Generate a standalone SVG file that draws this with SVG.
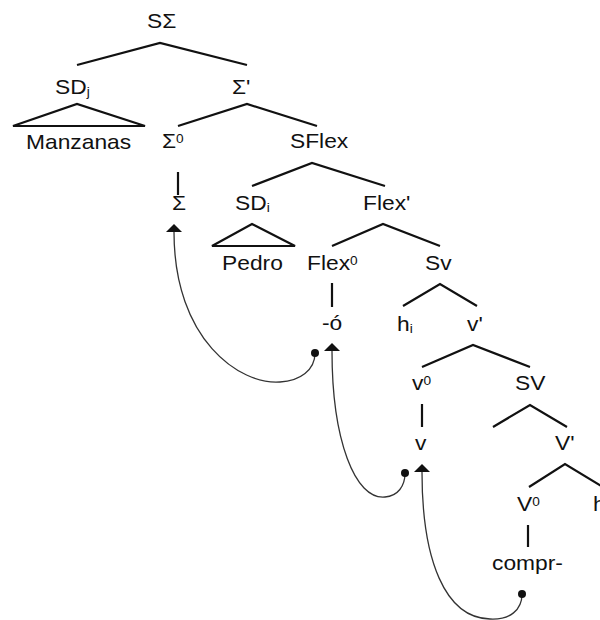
<svg xmlns="http://www.w3.org/2000/svg" width="600" height="620" viewBox="0 0 600 620">
<defs>
<style>
text{font-family:"Liberation Sans",Arial,sans-serif;font-size:20px;fill:#111}
.sub{font-size:12px}
.sup{font-size:12px}
.edge{stroke:#111;stroke-width:2.2;fill:none;stroke-linecap:butt}
.mv{stroke:#333;stroke-width:1.3;fill:none;marker-start:url(#dot);marker-end:url(#arr)}
</style>
<marker id="arr" viewBox="0 0 8 16" refX="0" refY="8" markerWidth="8" markerHeight="16" markerUnits="userSpaceOnUse" orient="auto"><path d="M0,0 L8,8 L0,16 z" fill="#111"/></marker>
<marker id="dot" viewBox="0 0 8 8" refX="4" refY="4" markerWidth="8" markerHeight="8" markerUnits="userSpaceOnUse"><circle cx="4" cy="4" r="4" fill="#111"/></marker>
</defs>
<rect width="600" height="620" fill="#fff"/>
<g id="connectors">
<polyline class="edge" points="77,65 160,43 247,65"/>
<polygon class="edge" points="13,126 77,104 145,126"/>
<polyline class="edge" points="178,126 247,104 317,126"/>
<line class="edge" x1="178" y1="172" x2="178" y2="195"/>
<polyline class="edge" points="252,186 312,163 385,186"/>
<polygon class="edge" points="212,246 252,224 295,246"/>
<polyline class="edge" points="332,246 383,224 440,246"/>
<line class="edge" x1="332" y1="283" x2="332" y2="307"/>
<polyline class="edge" points="403,306 440,284 477,306"/>
<polyline class="edge" points="422,367 473,345 530,367"/>
<line class="edge" x1="422" y1="404" x2="422" y2="427"/>
<polyline class="edge" points="493,427 530,405 567,427"/>
<polyline class="edge" points="529,487 565,464 603,487"/>
<line class="edge" x1="528" y1="525" x2="528" y2="547"/>
<path class="mv" d="M315,353 C315,370 300,381 280,382 C240,385 174,340 174,232"/>
<path class="mv" d="M405,473 C405,486 398,496 385,497 C355,500 332,440 332,351"/>
<path class="mv" d="M522,594 C522,610 510,620 490,619 C445,618 422,560 422,472"/>
</g>
<g id="n-SSigma"><text transform="translate(147,28) scale(1.14,1)">SΣ</text></g>
<g id="n-SDj"><text transform="translate(55,94) scale(1.14,1)">SD<tspan class="sub" dy="2">j</tspan></text></g>
<g id="n-Sigmabar"><text transform="translate(232,94) scale(1.14,1)">Σ'</text></g>
<g id="n-Manzanas"><text transform="translate(26,149) scale(1.14,1)">Manzanas</text></g>
<g id="n-Sigma0"><text transform="translate(162,148) scale(1.14,1)">Σ<tspan class="sup" dy="-5">0</tspan></text></g>
<g id="n-SFlex"><text transform="translate(290,148) scale(1.14,1)">SFlex</text></g>
<g id="n-Sigma"><text transform="translate(172,210) scale(1.14,1)">Σ</text></g>
<g id="n-SDi"><text transform="translate(235,210) scale(1.14,1)">SD<tspan class="sub" dy="2">i</tspan></text></g>
<g id="n-Flexbar"><text transform="translate(363,210) scale(1.14,1)">Flex'</text></g>
<g id="n-Pedro"><text transform="translate(222,270) scale(1.14,1)">Pedro</text></g>
<g id="n-Flex0"><text transform="translate(307,270) scale(1.14,1)">Flex<tspan class="sup" dy="-5">0</tspan></text></g>
<g id="n-Sv"><text transform="translate(425,270) scale(1.14,1)">Sv</text></g>
<g id="n-o"><text transform="translate(322,330) scale(1.14,1)">-ó</text></g>
<g id="n-hi"><text transform="translate(397,331) scale(1.14,1)">h<tspan class="sub" dy="2">i</tspan></text></g>
<g id="n-vbar"><text transform="translate(467,331) scale(1.14,1)">v'</text></g>
<g id="n-v0"><text transform="translate(412,390) scale(1.14,1)">v<tspan class="sup" dy="-5">0</tspan></text></g>
<g id="n-SV"><text transform="translate(515,390) scale(1.14,1)">SV</text></g>
<g id="n-v"><text transform="translate(415,450) scale(1.14,1)">v</text></g>
<g id="n-Vbar"><text transform="translate(555,450) scale(1.14,1)">V'</text></g>
<g id="n-V0"><text transform="translate(517,511) scale(1.14,1)">V<tspan class="sup" dy="-5">0</tspan></text></g>
<g id="n-hi2"><text transform="translate(593,511) scale(1.14,1)">h<tspan class="sub" dy="2">i</tspan></text></g>
<g id="n-compr"><text transform="translate(492,570) scale(1.14,1)">compr-</text></g>
</svg>
